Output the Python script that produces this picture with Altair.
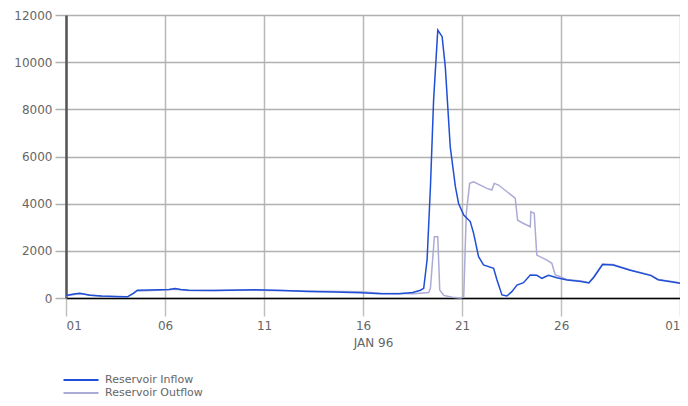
import altair as alt
import pandas as pd

# Day of January 1996 (fractional; 32 = Feb 1) and flows
inflow_day = [1.0, 1.4, 1.7, 2.2, 2.8, 3.5, 4.1, 4.4, 4.6, 5.2, 5.7, 6.2, 6.5, 6.8, 7.2, 8.5,
              10.5, 12.0, 13.2, 14.5, 15.9, 16.9, 17.8, 18.5, 18.9, 19.06, 19.23, 19.40, 19.56,
              19.77, 19.99, 20.15, 20.40, 20.66, 20.82, 21.08, 21.41, 21.58, 21.83, 22.08, 22.59,
              22.76, 23.01, 23.26, 23.51, 23.77, 24.10, 24.44, 24.77, 25.03, 25.36, 25.78, 26.3,
              27.0, 27.4, 27.65, 28.09, 28.62, 29.49, 30.54, 30.89, 31.77, 32.0]
inflow_val = [110, 170, 200, 120, 80, 60, 50, 200, 330, 340, 350, 360, 400, 360, 330, 320,
              350, 320, 280, 250, 220, 180, 180, 230, 330, 410, 1610, 4720, 8400,
              11360, 11080, 9800, 6410, 4720, 4010, 3520, 3240, 2740, 1750, 1400, 1260,
              760, 130, 85, 270, 550, 650, 975, 960, 835, 960, 860, 760,
              700, 640, 880, 1420, 1400, 1175, 950, 775, 660, 620]

outflow_day = [1.0, 1.7, 2.8, 4.1, 4.6, 5.7, 6.5, 7.2, 10.5, 13.2, 15.9, 16.9, 18.56, 19.32,
               19.40, 19.60, 19.77, 19.87, 20.07, 20.5, 20.91, 21.08, 21.21, 21.38, 21.58, 22.25,
               22.5, 22.62, 22.84, 23.68, 23.80, 24.10, 24.44, 24.47, 24.64, 24.77, 25.28, 25.53,
               25.70, 25.95, 26.3, 27.0, 27.4, 27.65, 28.09, 28.62, 29.49, 30.54, 30.89, 31.77, 32.0]
outflow_val = [100, 180, 70, 40, 300, 330, 370, 320, 330, 300, 270, 200, 180, 230,
               420, 2600, 2600, 340, 110, 30, 0, 40, 3590, 4860, 4930, 4650,
               4580, 4860, 4790, 4230, 3300, 3160, 3020, 3660, 3590, 1820, 1610, 1470,
               975, 900, 780, 720, 660, 900, 1440, 1420, 1190, 970, 790, 680, 630]

series_names = ["Reservoir Inflow", "Reservoir Outflow"]
series_colors = ["#1f4fd6", "#ababd6"]
tick_days = [1, 6, 11, 16, 21, 26]
FONT = "DejaVu Sans"

base_date = pd.Timestamp("1996-01-01")
def frame(days, vals, name):
    return pd.DataFrame({
        "t": [base_date + pd.to_timedelta(d - 1, unit="D") for d in days],
        "v": vals,
        "s": name,
    })

df = pd.concat([frame(inflow_day, inflow_val, series_names[0]),
                frame(outflow_day, outflow_val, series_names[1])])
df["t"] = df["t"].dt.strftime("%Y-%m-%dT%H:%M:%S")

tick_vals = [alt.DateTime(year=1996, month=1, date=d) for d in tick_days] + \
            [alt.DateTime(year=1996, month=2, date=1)]

x = alt.X("t:T",
          scale=alt.Scale(domain=[alt.DateTime(year=1996, month=1, date=1),
                                  alt.DateTime(year=1996, month=2, date=1)]),
          axis=alt.Axis(values=tick_vals, format="%d", title="JAN 96",
                        grid=True, gridColor="#b8b8b8", gridWidth=1.5,
                        domainColor="#000000", domainWidth=1.5,
                        tickColor="#c0c0c0", tickWidth=1.5, tickSize=18,
                        labelColor="#666666", labelFontSize=12, labelPadding=4,
                        titleColor="#666666", titleFontSize=12, titleFontWeight="normal",
                        titlePadding=6, labelFont=FONT, titleFont=FONT))
y = alt.Y("v:Q",
          scale=alt.Scale(domain=[0, 12000]),
          axis=alt.Axis(values=[0, 2000, 4000, 6000, 8000, 10000, 12000], format="d", title=None,
                        grid=True, gridColor="#b0b0b0", gridWidth=1.5,
                        domainColor="#555555", domainWidth=2.5,
                        tickColor="#b0b0b0", tickWidth=1.5, tickSize=11,
                        labelColor="#666666", labelFontSize=12, labelPadding=3,
                        labelFont=FONT))
color = alt.Color("s:N",
                  scale=alt.Scale(domain=series_names, range=series_colors),
                  legend=alt.Legend(title=None, orient="none", legendX=-8, legendY=359.5,
                                    symbolType="M0,0H14", symbolSize=25, symbolStrokeWidth=2,
                                    symbolFillColor="transparent",
                                    labelFontSize=11, labelColor="#666666", rowPadding=1,
                                    labelFont=FONT, labelOffset=36))

out_layer = alt.Chart(df).transform_filter(alt.datum.s == series_names[1]).mark_line(
    strokeWidth=1.5).encode(x=x, y=y, color=color)
in_layer = alt.Chart(df).transform_filter(alt.datum.s == series_names[0]).mark_line(
    strokeWidth=1.5).encode(x=x, y=y, color=color)

chart = alt.layer(out_layer, in_layer).properties(
    width=614, height=283,
    autosize=alt.AutoSizeParams(type="none"),
    padding={"left": 58, "top": 7, "right": 0, "bottom": 100},
).configure_view(stroke=None)

chart.save("out.html", embed_options={"renderer": "svg", "actions": False})
